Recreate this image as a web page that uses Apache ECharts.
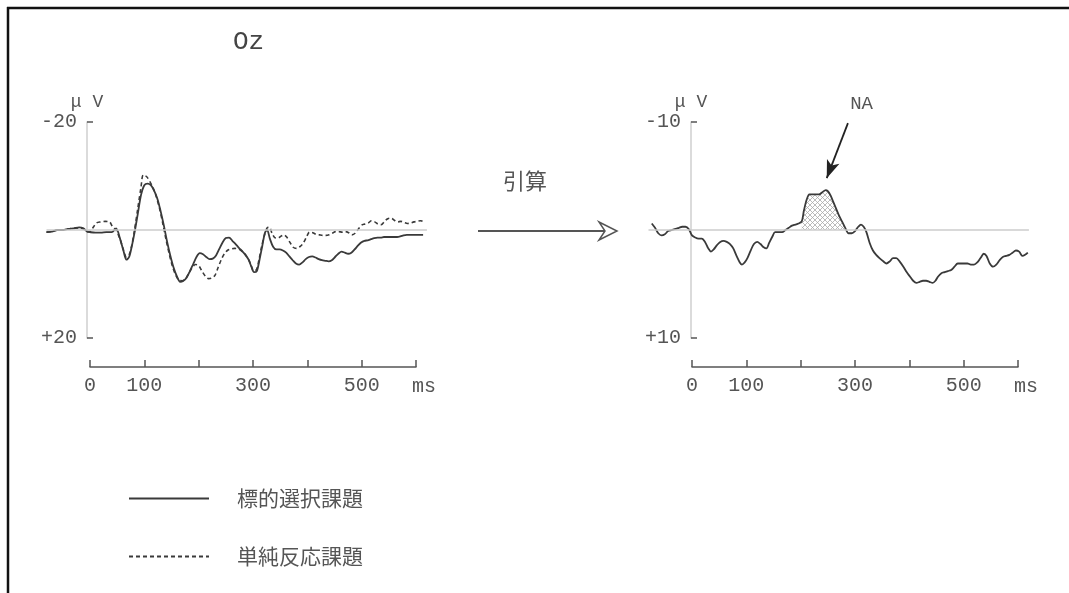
<!DOCTYPE html>
<html>
<head>
<meta charset="utf-8">
<script src="https://cdn.jsdelivr.net/npm/echarts@6/dist/echarts.min.js"></script>
<style>
html,body{margin:0;padding:0;background:#fff;}
#chart{width:1069px;height:593px;}
</style>
</head>
<body>
<div id="chart"></div>
<script>
// ---------- DATA ----------
const channelTitle = 'Oz';
const seriesNames = ['標的選択課題', '単純反応課題'];
const diffLabel = '引算';
const naLabel = 'NA';
const unitLabel = 'μ V';
const timeUnit = 'ms';

// Left panel: solid (標的選択課題)
const leftSolidT = [-80,-70,-60,-50,-40,-30,-20,-12,-5,0,10,20,30,40,48,55,62,67,72,77,82,88,94,100,106,112,118,124,130,136,142,148,154,160,166,172,178,184,190,196,202,208,214,220,226,232,238,244,250,256,262,268,274,280,286,292,297,302,307,312,317,322,326,331,337,343,349,355,361,367,373,379,385,391,397,403,409,415,421,427,433,439,445,451,457,463,469,475,481,487,493,499,505,511,517,523,529,535,541,547,553,559,565,571,577,583,589,595,601,607,613];
const leftSolidV = [0.4,0.3,0.0,0.0,-0.2,-0.3,-0.5,-0.3,0.3,0.4,0.5,0.5,0.4,0.4,-0.3,1.5,4.0,5.5,5.0,3.0,0.5,-3.0,-6.5,-8.3,-8.6,-8.3,-7.3,-5.8,-3.5,-0.8,2.2,4.8,7.0,8.6,9.6,9.4,8.8,7.6,6.3,5.0,4.3,4.5,5.0,5.4,5.3,4.7,3.5,2.3,1.5,1.4,2.0,2.6,3.3,3.9,4.6,5.5,6.8,7.8,7.6,5.5,3.0,0.5,0.0,1.6,3.1,3.6,3.6,3.8,4.2,4.9,5.6,6.2,6.4,6.0,5.4,5.0,4.9,5.1,5.4,5.6,5.7,5.8,5.6,5.0,4.4,4.0,4.2,4.4,4.2,3.6,2.9,2.3,2.0,1.9,1.7,1.5,1.4,1.4,1.3,1.3,1.3,1.3,1.3,1.2,1.0,0.9,0.9,0.9,0.9,0.9,0.9];

// Left panel: dashed (単純反応課題)
const leftDashT = [-80,-70,-60,-50,-40,-30,-20,-12,-5,0,6,12,20,28,36,42,48,55,62,67,72,77,82,88,94,98,104,110,116,122,128,134,140,146,152,158,164,170,176,182,188,194,200,206,212,218,224,230,236,242,248,254,260,266,272,278,284,290,296,301,306,311,316,321,326,330,335,340,346,352,357,362,368,374,380,386,392,398,404,410,416,422,428,434,440,446,452,458,464,470,476,482,488,494,500,506,512,518,524,530,536,542,548,554,560,566,572,578,584,590,596,602,608,614];
const leftDashV = [0.4,0.3,0.0,0.0,-0.2,-0.3,-0.4,-0.2,0.3,0.3,-0.5,-1.3,-1.5,-1.6,-1.5,-0.5,0.0,1.6,3.8,5.0,4.6,2.8,0.0,-4.0,-8.0,-10.2,-9.9,-9.0,-7.8,-6.2,-4.0,-1.2,1.8,4.5,6.8,8.4,9.3,9.4,9.0,8.0,7.0,6.4,6.6,7.6,8.5,9.0,8.9,8.4,6.9,5.4,4.3,3.7,3.5,3.4,3.5,3.8,4.3,5.2,6.4,7.5,7.4,5.5,3.0,1.0,-0.4,-0.5,0.6,1.4,1.5,1.1,0.9,1.3,2.3,3.2,3.4,3.1,2.5,1.4,0.4,0.5,0.8,0.9,1.0,1.0,0.9,0.6,0.3,0.3,0.4,0.3,0.5,0.9,0.6,-0.2,-0.9,-1.1,-1.3,-1.7,-1.5,-1.1,-1.0,-1.6,-2.1,-2.2,-1.8,-1.5,-1.6,-1.4,-1.2,-1.3,-1.5,-1.6,-1.7,-1.6];

// Right panel: difference wave
const rightT = [-74,-68,-62,-56,-50,-44,-37,-30,-24,-18,-12,-6,0,6,12,18,24,30,35,40,46,52,58,64,70,76,82,88,92,97,102,108,114,120,126,132,137,142,148,153,160,166,172,178,184,190,196,202,206,211,216,222,228,234,240,246,250,255,260,265,270,276,282,288,294,300,306,311,316,321,327,333,339,345,352,358,364,370,376,382,389,395,401,407,413,419,425,431,437,443,448,453,459,465,471,477,483,489,495,501,507,513,519,525,531,537,542,548,554,560,566,572,578,584,590,596,602,608,613,618];
const rightV = [-0.6,-0.2,0.3,0.5,0.4,0.1,0.0,-0.1,-0.2,-0.3,-0.3,-0.1,0.5,0.7,0.8,0.8,1.1,1.7,2.0,1.8,1.4,1.1,1.0,1.1,1.3,1.7,2.4,3.0,3.2,3.0,2.6,1.9,1.3,1.1,1.3,1.6,1.7,1.2,0.6,0.2,0.2,0.2,0.0,-0.2,-0.4,-0.5,-0.6,-0.8,-1.8,-2.8,-3.3,-3.3,-3.3,-3.3,-3.5,-3.7,-3.6,-3.2,-2.6,-2.0,-1.4,-0.8,-0.2,0.3,0.3,0.1,-0.3,-0.5,-0.3,0.2,1.2,1.9,2.3,2.6,2.9,3.1,2.9,2.6,2.6,2.9,3.4,3.9,4.3,4.7,4.9,4.8,4.7,4.7,4.8,4.9,4.7,4.3,4.0,3.9,3.8,3.7,3.4,3.1,3.1,3.1,3.1,3.2,3.2,3.0,2.6,2.2,2.4,3.1,3.4,3.2,2.8,2.5,2.4,2.3,2.1,1.9,2.0,2.4,2.3,2.1];

// NA window (ms) and annotation arrow (ms, µV)
const naWindow = [202, 282];
const naArrowFrom = [287, -9.9];
const naArrowTo = [248, -4.8];

// Axis ranges / ticks
const timeRange = [-80, 620];
const timeAxisRange = [0, 600];
const timeTickValues = [0, 100, 200, 300, 400, 500, 600];
const timeLabelValues = [0, 100, 300, 500];
const leftVoltRange = [-20, 20];
const rightVoltRange = [-10, 10];
const leftVoltTicks = [-20, 20];
const rightVoltTicks = [-10, 10];

// ---------- BUILD ----------
const zip = (t, v) => t.map((x, i) => [x, v[i]]);
const rightData = zip(rightT, rightV);
const naData = rightData.filter(p => p[0] >= naWindow[0] && p[0] <= naWindow[1]);

const pat = document.createElement('canvas');
pat.width = 5; pat.height = 5;
const pc = pat.getContext('2d');
pc.fillStyle = '#ffffff'; pc.fillRect(0,0,5,5);
pc.strokeStyle = '#aaaaaa'; pc.lineWidth = 0.8;
pc.beginPath(); pc.moveTo(0,0); pc.lineTo(5,5); pc.moveTo(5,0); pc.lineTo(0,5); pc.stroke();

const MONO = 'Liberation Mono';
const TXT = '#555';
const LINE = '#3a3a3a';

function timeAxis(grid) {
  return {
    gridIndex: grid, type: 'value', min: timeAxisRange[0], max: timeAxisRange[1], interval: 100,
    position: 'bottom', offset: 29,
    axisLine: { show: true, onZero: false, lineStyle: { color: '#555', width: 1.5 } },
    axisTick: { show: true, inside: true, length: 7, customValues: timeTickValues, lineStyle: { color: '#555', width: 1.5 } },
    axisLabel: { show: true, margin: 9, customValues: timeLabelValues, fontFamily: MONO, fontSize: 20, color: TXT },
    splitLine: { show: false },
    name: timeUnit, nameLocation: 'end', nameGap: -4,
    nameTextStyle: { fontFamily: MONO, fontSize: 20, color: TXT, align: 'left', verticalAlign: 'top', lineHeight: 40 }
  };
}
function voltAxis(grid, range, ticks, off) {
  return {
    gridIndex: grid, type: 'value', min: range[0], max: range[1], inverse: true, offset: off,
    axisLine: { show: true, onZero: false, lineStyle: { color: '#cfcfcf', width: 1.5 } },
    axisTick: { show: true, inside: true, length: 6, customValues: ticks, lineStyle: { color: '#555', width: 1.5 } },
    axisLabel: { show: true, margin: 10, customValues: ticks, fontFamily: MONO, fontSize: 20, color: TXT,
      formatter: v => (v > 0 ? '+' + v : String(v)) },
    splitLine: { show: false },
    name: unitLabel, nameLocation: 'start', nameGap: 20,
    nameTextStyle: { fontFamily: MONO, fontSize: 18, color: TXT, align: 'center', verticalAlign: 'middle' }
  };
}
function hiddenX(grid) { return { gridIndex: grid, type: 'value', min: timeRange[0], max: timeRange[1], show: false, splitLine: { show: false } }; }
function hiddenY(grid, r) { return { gridIndex: grid, type: 'value', min: r[0], max: r[1], inverse: true, show: false, splitLine: { show: false } }; }

const zeroLine = {
  silent: true, symbol: 'none', label: { show: false },
  lineStyle: { color: '#cccccc', width: 1.5, type: 'solid' },
  data: [{ yAxis: 0 }]
};

const option = {
  backgroundColor: '#ffffff',
  animation: false,
  title: {
    text: channelTitle, left: 228, top: 24,
    textStyle: { fontFamily: MONO, fontSize: 26, fontWeight: 'normal', color: '#444' }
  },
  legend: {
    data: seriesNames, orient: 'vertical', left: 123, top: 483,
    itemWidth: 80, itemHeight: 24, itemGap: 37,
    itemStyle: { opacity: 0, color: 'rgba(0,0,0,0)', borderWidth: 0 },
    textStyle: { fontFamily: 'Noto Sans CJK JP', fontSize: 21, color: TXT, padding: [0, 0, 0, 23] },
    selectedMode: false
  },
  grid: [
    { left: 46.5, top: 122, width: 380.4, height: 216 },
    { left: 90, top: 122, width: 326, height: 216 },
    { left: 648.5, top: 122, width: 380.4, height: 216 },
    { left: 692, top: 122, width: 326, height: 216 }
  ],
  xAxis: [hiddenX(0), timeAxis(1), hiddenX(2), timeAxis(3)],
  yAxis: [hiddenY(0, leftVoltRange), voltAxis(1, leftVoltRange, leftVoltTicks, 3),
          hiddenY(2, rightVoltRange), voltAxis(3, rightVoltRange, rightVoltTicks, 1)],
  series: [
    {
      name: seriesNames[0], type: 'line', xAxisIndex: 0, yAxisIndex: 0, z: 4,
      data: zip(leftSolidT, leftSolidV), symbol: 'none', smooth: 0.3,
      lineStyle: { color: LINE, width: 1.8 }, itemStyle: { color: LINE },
      markLine: zeroLine
    },
    {
      name: seriesNames[1], type: 'line', xAxisIndex: 0, yAxisIndex: 0, z: 3,
      data: zip(leftDashT, leftDashV), symbol: 'none', smooth: 0.3,
      lineStyle: { color: LINE, width: 1.6, type: [4, 3] }, itemStyle: { color: LINE }
    },
    {
      name: 'NA-area', type: 'line', xAxisIndex: 2, yAxisIndex: 2, z: 2,
      data: naData, symbol: 'none', smooth: 0.3,
      lineStyle: { width: 0 },
      areaStyle: { origin: 0, opacity: 1, color: { image: pat, repeat: 'repeat' } }
    },
    {
      name: diffLabel, type: 'line', xAxisIndex: 2, yAxisIndex: 2, z: 4,
      data: rightData, symbol: 'none', smooth: 0.3,
      lineStyle: { color: LINE, width: 1.8 }, itemStyle: { color: LINE },
      markLine: {
        silent: true, symbol: 'none', animation: false,
        data: [
          { yAxis: 0, lineStyle: { color: '#cccccc', width: 1.5, type: 'solid' }, label: { show: false } },
          [
            { coord: naArrowFrom, symbol: 'none' },
            { coord: naArrowTo, symbol: 'arrow', symbolSize: [10, 18] }
          ]
        ],
        lineStyle: { color: '#222', width: 1.8, type: 'solid' },
        label: { show: true, position: 'start', distance: 10, formatter: naLabel,
          fontFamily: MONO, fontSize: 19, color: TXT, offset: [10, 0] }
      }
    }
  ],
  graphic: [
    { type: 'line', shape: { x1: 7, y1: 8, x2: 1069, y2: 8 }, style: { stroke: '#111', lineWidth: 2.5 } },
    { type: 'line', shape: { x1: 8, y1: 7, x2: 8, y2: 593 }, style: { stroke: '#111', lineWidth: 2.5 } },
    { type: 'text', left: 503, top: 170, style: { text: diffLabel, font: '22px "Noto Sans CJK JP"', fill: TXT } },
    { type: 'line', shape: { x1: 478, y1: 231, x2: 612, y2: 231 }, style: { stroke: '#555', lineWidth: 2 } },
    { type: 'polygon', shape: { points: [[599, 222], [617, 231], [599, 240], [605, 231]] }, style: { stroke: '#555', fill: '#fff', lineWidth: 1.5 } }
  ]
};

const chart = echarts.init(document.getElementById('chart'), null, { renderer: 'canvas' });
chart.setOption(option);
</script>
</body>
</html>
